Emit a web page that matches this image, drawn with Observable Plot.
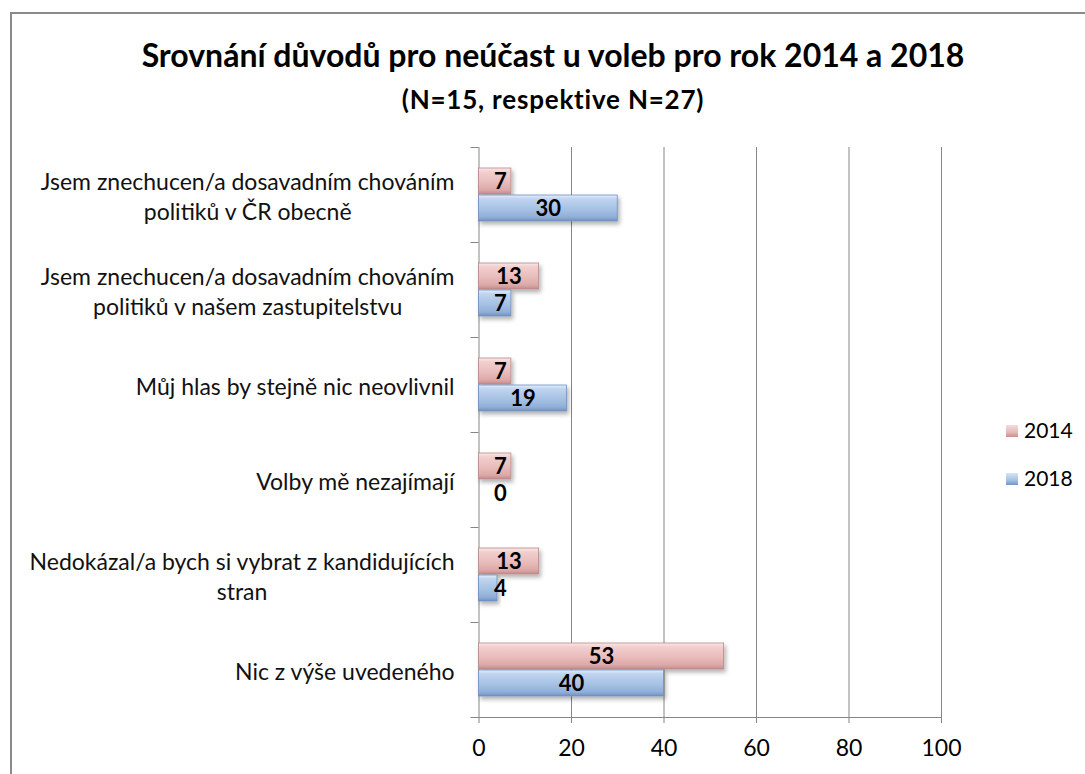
<!DOCTYPE html>
<html><head><meta charset="utf-8">
<script src="https://cdn.jsdelivr.net/npm/d3@7"></script>
<script src="https://cdn.jsdelivr.net/npm/@observablehq/plot@0.6"></script>
<style>
html,body{margin:0;padding:0;background:#fff;}
#wrap{position:relative;width:1085px;height:774px;overflow:hidden;font-family:Lato,"Open Sans",sans-serif;color:#000;}
#border{position:absolute;left:10px;top:12px;width:1200px;height:900px;border:2px solid #8a8a8a;box-sizing:border-box;pointer-events:none;}
#head{position:relative;height:135px;}
#title{position:absolute;top:36px;left:0;width:1106px;text-align:center;font-weight:bold;font-size:32px;line-height:38px;}
#subtitle{position:absolute;top:84px;left:0;width:1106px;text-align:center;font-weight:bold;font-size:26px;line-height:30px;letter-spacing:0.8px;}
#chart svg{display:block;}
.leg{position:absolute;left:1006px;font-size:21px;line-height:24px;height:24px;}
.leg span{display:inline-block;width:12px;height:12px;margin-right:6px;vertical-align:middle;position:relative;top:-2px;}
</style>
</head><body>
<div id="wrap">
  <div id="border"></div>
  <div id="head">
    <div id="title">Srovnání důvodů pro neúčast u voleb pro rok 2014 a 2018</div>
    <div id="subtitle">(N=15, respektive N=27)</div>
  </div>
  <div id="chart"></div>
  <div id="legend"></div>
</div>
<script>
const categories = [
  "Jsem znechucen/a dosavadním chováním\npolitiků v ČR obecně",
  "Jsem znechucen/a dosavadním chováním\npolitiků v našem zastupitelstvu",
  "Můj hlas by stejně nic neovlivnil",
  "Volby mě nezajímají",
  "Nedokázal/a bych si vybrat z kandidujících\nstran",
  "Nic z výše uvedeného"
];
const years = ["2014", "2018"];
const values2014 = [7, 13, 7, 7, 13, 53];
const values2018 = [30, 7, 19, 0, 4, 40];
const xTicks = [0, 20, 40, 60, 80, 100];

const data = categories.flatMap((c, i) => [
  {category: c, year: "2014", value: values2014[i]},
  {category: c, year: "2018", value: values2018[i]}
]);

const gridColor = "#868686";

const svg = Plot.plot({
  width: 1085,
  height: 639,
  marginTop: 12,
  marginBottom: 57,
  marginLeft: 478.5,
  marginRight: 144,
  style: {fontFamily: "Lato, 'Open Sans', sans-serif", color: "#000", background: "transparent"},
  x: {domain: [0, 100], axis: null},
  fy: {domain: categories, padding: 0, axis: null},
  y: {domain: years, paddingInner: 0.02, paddingOuter: 0.76, axis: null},
  marks: [
    Plot.gridX(xTicks.filter(t => t > 0), {stroke: gridColor, strokeOpacity: 1, strokeWidth: 1}),
    Plot.ruleX([0], {stroke: gridColor, strokeWidth: 1}),
    Plot.axisFy({anchor: "left", label: null, tickSize: 8, tickFormat: () => "", dy: -47.5, stroke: gridColor}),
    Plot.axisFy({anchor: "left", label: null, ticks: [categories[categories.length - 1]], tickSize: 8, tickFormat: () => "", dy: 47.5, stroke: gridColor}),
    Plot.frame({anchor: "bottom", facetAnchor: "bottom", stroke: gridColor}),
    Plot.axisX({ticks: xTicks, label: null, tickSize: 6, tickPadding: 16, fontSize: 23, stroke: gridColor, color: "#000"}),
    Plot.barX(data, {filter: d => d.year === "2014" && d.value > 0, fy: "category", y: "year", x: "value",
      fill: "url(#g2014)", stroke: "#b88a89", strokeWidth: 0.8}),
    Plot.barX(data, {filter: d => d.year === "2018" && d.value > 0, fy: "category", y: "year", x: "value",
      fill: "url(#g2018)", stroke: "#6f8fbd", strokeWidth: 0.8}),
    Plot.text(data, {fy: "category", y: "year", x: d => Math.max(d.value / 2, 4.6), text: d => String(d.value),
      fontWeight: "bold", fontSize: 22, fill: "#000"}),
    Plot.text(categories, {fy: d => d, text: d => d, frameAnchor: "left", dx: -24.5, textAnchor: "end",
      lineHeight: 1.3, fontSize: 23, fill: "#111"})
  ]
});

// gradients and shadow for the bevelled Excel-like bars
const defs = d3.select(svg).insert("defs", ":first-child");
function grad(id, stops) {
  const g = defs.append("linearGradient").attr("id", id).attr("x1", 0).attr("y1", 0).attr("x2", 0).attr("y2", 1);
  stops.forEach(([o, c]) => g.append("stop").attr("offset", o).attr("stop-color", c));
}
grad("g2014", [[0, "#fbe9e9"], [0.15, "#f1cfce"], [0.55, "#e8bcbb"], [0.85, "#dba8a7"], [1, "#c48b8a"]]);
grad("g2018", [[0, "#e3eefb"], [0.15, "#bfd4ef"], [0.55, "#a6c1e4"], [0.85, "#90aed8"], [1, "#7290be"]]);
const f = defs.append("filter").attr("id", "shadow").attr("x", "-10%").attr("y", "-30%").attr("width", "130%").attr("height", "180%");
f.append("feDropShadow").attr("dx", 2).attr("dy", 3).attr("stdDeviation", 2).attr("flood-opacity", 0.3);
d3.select(svg).selectAll("rect").filter(function() {
  const fill = this.getAttribute("fill") || (this.parentNode && this.parentNode.getAttribute("fill"));
  return fill && fill.startsWith("url(");
}).attr("filter", "url(#shadow)");

document.getElementById("chart").appendChild(svg);

// Excel-style wrapped labels: block right-aligned, lines centred within the block
svg.querySelectorAll("text").forEach(function(t) {
  const tspans = t.querySelectorAll("tspan");
  if (tspans.length > 1) {
    const w = t.getBBox().width;
    t.setAttribute("text-anchor", "middle");
    t.style.textAnchor = "middle";
    tspans.forEach(s => { s.setAttribute("x", -w / 2); s.setAttribute("text-anchor", "middle"); });
  }
});

// legend
const legend = document.getElementById("legend");
const legColors = {"2014": "linear-gradient(#f6dcdb,#e6b9b8 60%,#c9908f)", "2018": "linear-gradient(#d6e4f6,#a6c1e4 60%,#7795c2)"};
const legTop = {"2014": 418, "2018": 466};
years.forEach(y => {
  const d = document.createElement("div");
  d.className = "leg";
  d.style.top = legTop[y] + "px";
  d.innerHTML = `<span style="background:${legColors[y]}"></span>${y}`;
  legend.appendChild(d);
});
</script>
</body></html>
